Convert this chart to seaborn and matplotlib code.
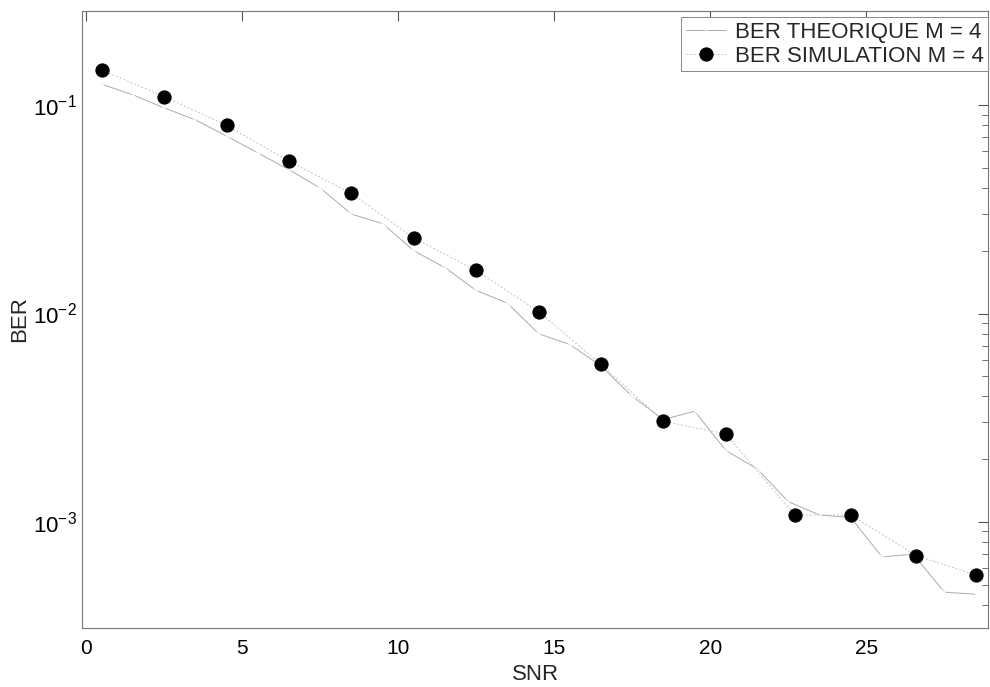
import numpy as np
import pandas as pd
import matplotlib
matplotlib.use("Agg")
import matplotlib.pyplot as plt
import seaborn as sns
from matplotlib.ticker import LogLocator, NullFormatter

# ---- data ----
snr_theory = [0.5, 1.5, 2.5, 3.5, 4.5, 5.5, 6.5, 7.5, 8.5, 9.5, 10.5, 11.5, 12.5, 13.5,
              14.5, 15.5, 16.5, 17.5, 18.5, 19.5, 20.5, 21.5, 22.5, 23.5, 24.5, 25.5,
              26.5, 27.5, 28.5]
ber_theory = [0.126, 0.112, 0.097, 0.085, 0.071, 0.059, 0.049, 0.040, 0.030, 0.027,
              0.020, 0.0166, 0.0129, 0.0112, 0.0080, 0.0071, 0.0056, 0.0040, 0.0031,
              0.0034, 0.0022, 0.0018, 0.00125, 0.00108, 0.00105, 0.00068, 0.00070,
              0.00046, 0.00045]

snr_sim = [0.5, 2.5, 4.5, 6.5, 8.5, 10.5, 12.5, 14.5, 16.5, 18.5, 20.5, 22.7, 24.5,
           26.6, 28.5]
ber_sim = [0.147, 0.110, 0.080, 0.0538, 0.0377, 0.0230, 0.0161, 0.0102, 0.0057,
           0.00304, 0.00264, 0.00108, 0.00108, 0.00069, 0.000557]

labels = ["BER THEORIQUE M = 4", "BER SIMULATION M = 4"]
x_ticks = [0, 5, 10, 15, 20, 25]

df_t = pd.DataFrame({"SNR": snr_theory, "BER": ber_theory})
df_s = pd.DataFrame({"SNR": snr_sim, "BER": ber_sim})

sns.set_style("white")
plt.rcParams["font.family"] = ["Liberation Sans", "DejaVu Sans"]
plt.rcParams["mathtext.fontset"] = "custom"
plt.rcParams["mathtext.rm"] = "Liberation Sans"
plt.rcParams["mathtext.it"] = "Liberation Sans:italic"
plt.rcParams["axes.unicode_minus"] = False

fig = plt.figure(figsize=(9.9, 6.87), dpi=100)
ax = fig.add_axes([0.083, 0.086, 0.915, 0.898])

sns.lineplot(data=df_t, x="SNR", y="BER", ax=ax, color="#ababab", lw=0.7,
             marker="x", markersize=4, markeredgewidth=0.7, label=labels[0])
sns.lineplot(data=df_s, x="SNR", y="BER", ax=ax, color="#c4c4c4", lw=0.7,
             linestyle=(0, (2, 2)), marker="o", markersize=9.5,
             markerfacecolor="black", markeredgecolor="black", label=labels[1])

ax.set_yscale("log")
ax.set_xlim(-0.13, 28.9)
ax.set_ylim(3.1e-4, 0.283)
ax.set_xticks(x_ticks)
ax.yaxis.set_major_locator(LogLocator(base=10, numticks=10))
ax.yaxis.set_minor_locator(LogLocator(base=10, subs=np.arange(2, 10), numticks=20))
ax.yaxis.set_minor_formatter(NullFormatter())

ax.tick_params(axis="both", which="both", direction="in", top=True, right=True,
               colors="#555555", labelcolor="black")
ax.tick_params(axis="x", which="major", labelsize=15, pad=8)
ax.tick_params(axis="y", which="major", labelsize=16, pad=4)
ax.tick_params(axis="both", which="major", length=7, width=0.8)
ax.tick_params(axis="both", which="minor", length=4, width=0.6)

for s in ax.spines.values():
    s.set_color("#777777")
    s.set_linewidth(0.8)

ax.set_xlabel("SNR", fontsize=16, labelpad=4)
ax.set_ylabel("BER", fontsize=16)
ax.yaxis.set_label_coords(-0.058, 0.5)

leg = ax.legend(loc="upper right", bbox_to_anchor=(1.0, 0.99), fontsize=16,
                frameon=True, fancybox=False, framealpha=1, edgecolor="#888888",
                borderpad=0.2, handlelength=1.8, handletextpad=0.4,
                labelspacing=0.15, borderaxespad=0.0)
leg.get_frame().set_linewidth(0.7)

fig.savefig("out.png", dpi=100)
